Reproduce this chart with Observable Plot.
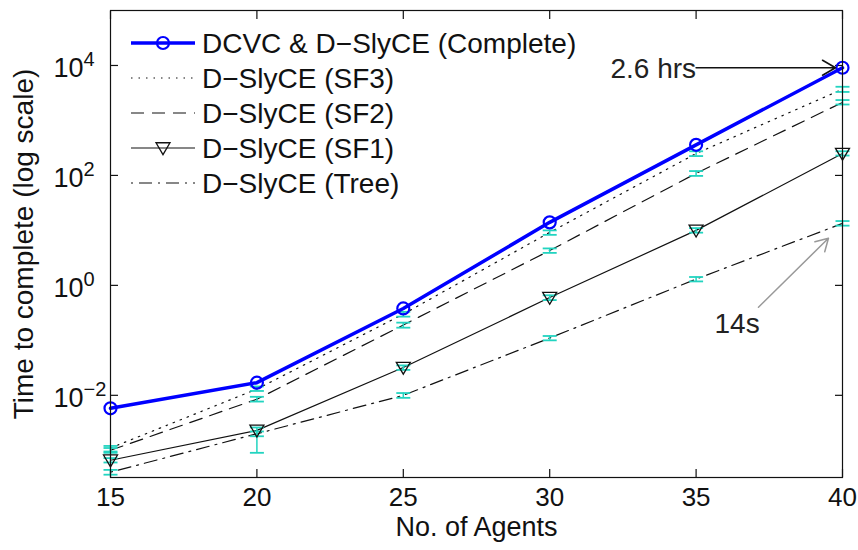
<!DOCTYPE html>
<html><head><meta charset="utf-8">
<script src="https://cdn.jsdelivr.net/npm/d3@7"></script>
<script src="https://cdn.jsdelivr.net/npm/@observablehq/plot@0.6"></script>
<style>body{margin:0;background:#fff} #chart{width:858px;height:550px}</style>
</head><body><div id="chart"></div>
<script>
// ---- data ----
const agents = [15, 20, 25, 30, 35, 40];
const seriesNames = ["DCVC & D\u2212SlyCE (Complete)", "D\u2212SlyCE (SF3)", "D\u2212SlyCE (SF2)", "D\u2212SlyCE (SF1)", "D\u2212SlyCE (Tree)"];
const complete = [0.0058, 0.017, 0.38, 14, 360, 9100];
const sf3   = [0.0011, 0.013, 0.30, 9.2, 250, 3700];
const sf3Lo = [0.00095, 0.012, 0.27, 8.3, 225, 3300];
const sf3Hi = [0.0012, 0.0145, 0.33, 10, 275, 4100];
const sf2   = [0.0010, 0.0085, 0.19, 4.3, 109, 2130];
const sf2Lo = [0.0009, 0.0077, 0.17, 3.9, 98, 1950];
const sf2Hi = [0.0011, 0.0094, 0.21, 4.7, 120, 2350];
const sf1   = [0.00066, 0.0023, 0.032, 0.6, 10, 250];
const sf1Lo = [0.0006, 0.0009, 0.029, 0.54, 9.1, 230];
const sf1Hi = [0.00072, 0.0026, 0.035, 0.66, 11, 275];
const tree   = [0.0004, 0.002, 0.010, 0.11, 1.3, 13.4];
const treeLo = [0.00036, 0.0018, 0.009, 0.10, 1.18, 12.2];
const treeHi = [0.00044, 0.0022, 0.011, 0.12, 1.42, 14.8];
const xTicks = [15, 20, 25, 30, 35, 40];
const yTicks = [1e-2, 1, 1e2, 1e4];
const hrsNote = {label: "2.6 hrs", x1: 35, x2: 40, y: 9100};
const secNote = {label: "14s", tx: 36.4, ty: 0.2, x1: 37.13, y1: 0.4, x2: 39.52, y2: 7.2};

// ---- build ----
const rows = (vals, lo, hi) => agents.map((x, i) => ({x, y: vals[i], lo: lo ? lo[i] : null, hi: hi ? hi[i] : null}));
const rComplete = rows(complete), rSf3 = rows(sf3, sf3Lo, sf3Hi), rSf2 = rows(sf2, sf2Lo, sf2Hi),
      rSf1 = rows(sf1, sf1Lo, sf1Hi), rTree = rows(tree, treeLo, treeHi);
const errRows = [...rSf3, ...rSf2, ...rSf1, ...rTree];

const cap = {draw(ctx, size) { const r = Math.sqrt(size / Math.PI); ctx.moveTo(-r, 0); ctx.lineTo(r, 0); }};
const triDown = {draw(ctx, size) { const r = Math.sqrt(size / Math.PI); ctx.moveTo(-r, -r * 0.75); ctx.lineTo(r, -r * 0.75); ctx.lineTo(0, r * 0.95); ctx.closePath(); }};

const FONT = "'Liberation Sans', Arial, Helvetica, sans-serif";
const CYAN = "#22d4c0";
const INK = "#111";
const styles = [
  {stroke: "#0000ff", strokeWidth: 3.5, dash: null, marker: "circle"},
  {stroke: INK, strokeWidth: 1.2, dash: "1.5,6", marker: null},
  {stroke: INK, strokeWidth: 1.2, dash: "13,8", marker: null},
  {stroke: INK, strokeWidth: 1.2, dash: null, marker: "tri"},
  {stroke: INK, strokeWidth: 1.2, dash: "2,6,13,6", marker: null}
];

const chart = Plot.plot({
  width: 858, height: 550,
  marginLeft: 110, marginRight: 16, marginTop: 10, marginBottom: 73,
  style: {fontFamily: FONT, fontSize: "27px", color: INK, background: "white"},
  x: {domain: [15, 40]},
  y: {type: "log", domain: [3.2e-4, 1e5]},
  marks: [
    Plot.axisX(xTicks, {anchor: "bottom", tickSize: -8, tickPadding: 18, fontSize: 26, label: null, strokeWidth: 1.2}),
    Plot.axisX(xTicks, {anchor: "top", tickSize: -8, tickFormat: () => "", label: null, strokeWidth: 1.2}),
    Plot.axisY(yTicks, {anchor: "left", tickSize: -8, tickFormat: () => "", label: null, strokeWidth: 1.2}),
    Plot.axisY(yTicks, {anchor: "right", tickSize: -8, tickFormat: () => "", label: null, strokeWidth: 1.2}),
    Plot.text(yTicks, {y: d => d, frameAnchor: "left", textAnchor: "start", dx: -57, dy: 3, fontSize: 27,
      text: d => String(Math.round(Math.log10(d))), ariaDescription: "ytick-labels", fill: INK}),
    Plot.text(["No. of Agents"], {frameAnchor: "bottom", textAnchor: "middle", dy: 58, fontSize: 27, fill: INK}),
    Plot.text(["Time to complete (log scale)"], {frameAnchor: "left", textAnchor: "middle", rotate: -90, dx: -86, fontSize: 28, fill: INK}),
    // lines
    Plot.line(rTree, {x: "x", y: "y", stroke: INK, strokeWidth: 1.2, strokeDasharray: "2,6,13,6"}),
    Plot.line(rSf1, {x: "x", y: "y", stroke: INK, strokeWidth: 1.2}),
    Plot.line(rSf2, {x: "x", y: "y", stroke: INK, strokeWidth: 1.2, strokeDasharray: "13,8"}),
    Plot.line(rSf3, {x: "x", y: "y", stroke: INK, strokeWidth: 1.2, strokeDasharray: "1.5,6"}),
    // error bars
    Plot.ruleX(errRows, {x: "x", y1: "lo", y2: "hi", stroke: CYAN, strokeWidth: 1.5}),
    Plot.dot(errRows, {x: "x", y: "lo", symbol: cap, r: 7, stroke: CYAN, strokeWidth: 1.8}),
    Plot.dot(errRows, {x: "x", y: "hi", symbol: cap, r: 7, stroke: CYAN, strokeWidth: 1.8}),
    Plot.dot(rSf1, {x: "x", y: "y", symbol: triDown, r: 7, stroke: INK, strokeWidth: 1.3, fill: "none"}),
    // complete
    Plot.line(rComplete, {x: "x", y: "y", stroke: "#0000ff", strokeWidth: 3.5}),
    Plot.dot(rComplete, {x: "x", y: "y", r: 6, stroke: "#0000ff", strokeWidth: 2.2, fill: "none"}),
    // annotations
    Plot.arrow([hrsNote], {x1: "x1", x2: "x2", y1: "y", y2: "y", stroke: INK, strokeWidth: 1.6, insetEnd: 7, headLength: 14}),
    Plot.text([hrsNote], {x: "x1", y: "y", text: "label", textAnchor: "end", dy: 1, fontSize: 28, fill: "#222"}),
    Plot.arrow([secNote], {x1: "x1", y1: "y1", x2: "x2", y2: "y2", stroke: "#999", strokeWidth: 1.5, headLength: 14}),
    Plot.text([secNote], {x: "tx", y: "ty", text: "label", fontSize: 28, fill: "#222"}),
    Plot.frame({stroke: INK, strokeWidth: 1.2})
  ]
});

// superscript exponents on y tick labels
let tickTexts = chart.querySelectorAll('g[aria-description="ytick-labels"] text');
if (!tickTexts.length) {
  tickTexts = [...chart.querySelectorAll("text")].filter(t => /^-?\d$/.test(t.textContent) && t.getAttribute("text-anchor") === "start");
}
tickTexts.forEach(t => {
  const e = t.textContent;
  t.textContent = "10";
  const ts = document.createElementNS("http://www.w3.org/2000/svg", "tspan");
  ts.setAttribute("dy", "-11");
  ts.setAttribute("font-size", "20");
  ts.textContent = e.replace("-", "\u2212");
  t.appendChild(ts);
});

// legend (top-left inside the frame)
const lg = d3.select(chart).append("g").attr("font-family", FONT).attr("font-size", 28)
  .attr("fill", INK).attr("text-anchor", "start");
seriesNames.forEach((name, i) => {
  const s = styles[i];
  const cy = 43 + 35 * i;
  lg.append("line").attr("x1", 131).attr("x2", 195).attr("y1", cy).attr("y2", cy)
    .attr("stroke", s.stroke).attr("stroke-width", s.strokeWidth)
    .attr("stroke-dasharray", s.dash);
  if (s.marker === "circle") {
    lg.append("circle").attr("cx", 163).attr("cy", cy).attr("r", 6).attr("fill", "none")
      .attr("stroke", s.stroke).attr("stroke-width", 2.2);
  } else if (s.marker === "tri") {
    lg.append("path").attr("transform", `translate(163,${cy})`).attr("d", d3.symbol(triDown, 49 * Math.PI)())
      .attr("fill", "none").attr("stroke", s.stroke).attr("stroke-width", 1.3);
  }
  lg.append("text").attr("x", 202).attr("y", cy).attr("dy", "0.35em").attr("text-anchor", "start").text(name);
});

document.getElementById("chart").appendChild(chart);
</script>
</body></html>
